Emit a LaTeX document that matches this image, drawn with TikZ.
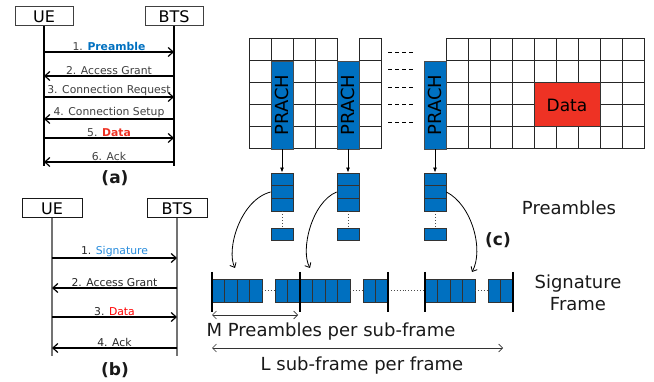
\documentclass[tikz,border=0pt]{standalone}
\usepackage{fontspec}
\setmainfont{DejaVu Sans}
\usetikzlibrary{arrows.meta,positioning}
\definecolor{prachblue}{RGB}{0,112,192}
\definecolor{sigblue}{RGB}{40,140,220}
\definecolor{datared}{RGB}{238,50,36}
\definecolor{txtgray}{RGB}{64,64,64}
\tikzset{
  actor/.style={draw=black!75, line width=1pt, minimum width=58, minimum height=19, inner sep=0pt, font=\fontsize{16}{18}\selectfont},
  lifeline/.style={line width=1.2pt},
  msg/.style={line width=1.2pt, -{Straight Barb[length=5pt,width=9pt]}},
  msglbl/.style={above, inner sep=1pt, font=\fontsize{10.8}{12}\selectfont, text=txtgray},
  cell/.style={draw=black!85, line width=1pt, fill=white},
  prach/.style={draw=black!70, fill=prachblue, minimum width=22, minimum height=88, inner sep=0pt, font=\fontsize{18}{18}\selectfont},
  prebox/.style={draw=black!80, fill=prachblue, minimum width=22, minimum height=12.7, inner sep=0pt, line width=0.8pt},
  sigcell/.style={draw=black!80, fill=prachblue, line width=0.7pt},
  framebar/.style={line width=2.5pt},
  dots/.style={dotted, line width=0.9pt, black!70},
  feed/.style={line width=0.8pt, -{Latex[length=5pt,width=4pt]}},
  swoop/.style={line width=0.8pt, -{Straight Barb[length=4pt,width=7pt]}},
  dim/.style={line width=0.7pt, black!80, {Straight Barb[length=4pt,width=8pt]}-{Straight Barb[length=4pt,width=8pt]}},
  bigtxt/.style={font=\fontsize{18}{22}\selectfont, text=black!90},
  caption/.style={font=\bfseries\fontsize{17}{19}\selectfont, text=black!90},
}
\begin{document}
\begin{tikzpicture}[x=1pt,y=-1pt]
\useasboundingbox (0,0) rectangle (654,382);
% (a) six-step access
\node[actor] (ueA) at (44,16.5) {UE};
\node[actor] (btsA) at (174,16.5) {BTS};
\coordinate (ueAend) at (44,166);
\coordinate (btsAend) at (174,166);
\draw[lifeline] (ueA) -- (ueAend);
\draw[lifeline] (btsA) -- (btsAend);
\foreach \i/\y in {1/52,2/76,3/97,4/119,5/138,6/162} {
  \coordinate (aL\i) at (44,\y);
  \coordinate (aR\i) at (174,\y);
}
\draw[msg] (aL1) -- node[msglbl]{1. \textcolor{prachblue}{\bfseries Preamble}} (aR1);
\draw[msg] (aR2) -- node[msglbl]{2. Access Grant} (aL2);
\draw[msg] (aL3) -- node[msglbl]{3. Connection Request} (aR3);
\draw[msg] (aR4) -- node[msglbl]{4. Connection Setup} (aL4);
\draw[msg] (aL5) -- node[msglbl]{5. \textcolor{datared}{\bfseries Data}} (aR5);
\draw[msg] (aR6) -- node[msglbl]{6. Ack} (aL6);
\node[caption] (capA) at (115,178) {(a)};

% (b) four-step access
\node[actor, minimum width=60, draw=black!90] (ueB) at (52,208.5) {UE};
\node[actor, minimum width=60, draw=black!90] (btsB) at (177,208.5) {BTS};
\coordinate (ueBend) at (52,356);
\coordinate (btsBend) at (177,356);
\draw[lifeline, black!55] (ueB) -- (ueBend);
\draw[lifeline, black!55] (btsB) -- (btsBend);
\foreach \i/\y in {1/258,2/288,3/317,4/348} {
  \coordinate (bL\i) at (52,\y);
  \coordinate (bR\i) at (177,\y);
}
\draw[msg] (bL1) -- node[msglbl, text=black!85]{1. \textcolor{sigblue}{Signature}} (bR1);
\draw[msg] (bR2) -- node[msglbl, text=black!85]{2. Access Grant} (bL2);
\draw[msg] (bL3) -- node[msglbl, text=black!85]{3. \textcolor{red}{Data}} (bR3);
\draw[msg] (bR4) -- node[msglbl, text=black!85]{4. Ack} (bL4);
\node[caption] (capB) at (115,370) {(b)};

% (c) resource grid
\foreach \x in {249,293,315,359}
  \foreach \y in {39,61,...,127}
    \draw[cell] (\x,\y) rectangle ++(22,22);
\draw[cell] (271,39) rectangle ++(22,22);
\foreach \x in {446,468,...,622}
  \foreach \y in {39,61,...,127}
    \draw[cell] (\x,\y) rectangle ++(22,22);
\node[draw=black!80, line width=1pt, fill=datared, minimum width=66, minimum height=44, inner sep=0pt, font=\fontsize{17}{18}\selectfont] (data) at (567,105) {Data};
\foreach \y in {52,69,87,104,122}
  \draw[dashed, dash pattern=on 4pt off 3pt, line width=0.8pt] (388,\y) -- (415,\y);

% PRACH columns and their preamble stacks
\foreach \n/\x in {1/282,2/348,3/435} {
  \node[prach] (prach\n) at (\x,105) {\rotatebox{90}{PRACH}};
  \node[prebox] (st\n a) at (\x,179.3) {};
  \node[prebox] (st\n b) at (\x,192) {};
  \node[prebox] (st\n c) at (\x,204.7) {};
  \node[prebox, minimum height=12] (st\n z) at (\x,234) {};
  \draw[dots] (st\n c) -- (st\n z);
  \draw[feed] (prach\n) -- (st\n a);
}

% signature frame
\coordinate (f1) at (235,268);
\coordinate (f2) at (310,268);
\coordinate (f3) at (472,272);
\draw[swoop] (st1b.west) .. controls (240,200) and (226,250) .. (f1);
\draw[swoop] (st2b.west) .. controls (312,202) and (300,250) .. (f2);
\draw[swoop] (st3b.east) .. controls (472,205) and (484,250) .. (f3);
\foreach \s in {212,300,425} {
  \foreach \k in {0,1,2,3}
    \draw[sigcell] (\s+\k*12.5,279) rectangle ++(12.5,23);
  \draw[dots] (\s+50,290.5) -- (\s+63,290.5);
  \foreach \k in {0,1}
    \draw[sigcell] (\s+63+\k*12.5,279) rectangle ++(12.5,23);
}
\draw[dots] (388,290.5) -- (425,290.5);
\foreach \x in {212,300,388,425,513}
  \draw[framebar] (\x,272) -- (\x,312);

% dimensions and labels
\coordinate (mL) at (212,315);
\coordinate (mR) at (298,315);
\coordinate (lL) at (212,348);
\coordinate (lR) at (503,348);
\draw[dim] (mL) -- (mR);
\draw[dim] (lL) -- (lR);
\node[bigtxt] (mtxt) at (331,332) {M Preambles per sub-frame};
\node[bigtxt] (ltxt) at (362,366) {L sub-frame per frame};
\node[bigtxt] (pretxt) at (569,208) {Preambles};
\node[bigtxt, align=center] (sigtxt) at (578,293) {Signature\\Frame};
\node[caption] (capC) at (498,240) {(c)};
\end{tikzpicture}
\end{document}
